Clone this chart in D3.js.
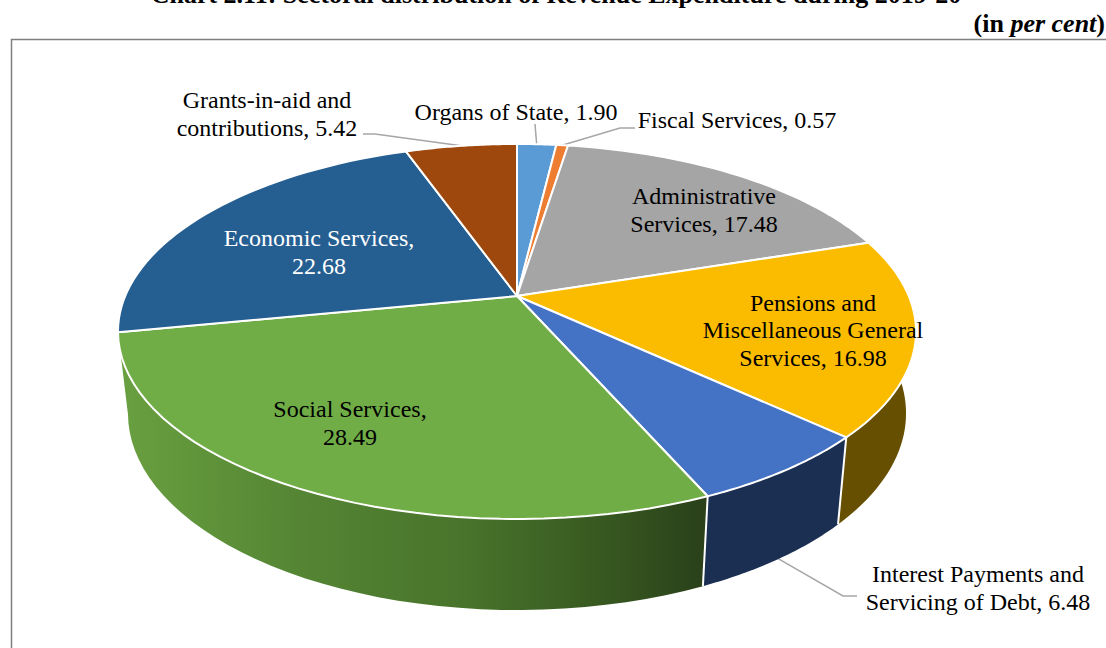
<!DOCTYPE html>
<html>
<head>
<meta charset="utf-8">
<script src="https://cdn.jsdelivr.net/npm/d3@7"></script>
<style>
html,body{margin:0;padding:0;background:#fff;overflow:hidden}
svg{display:block}
text{font-family:"Liberation Serif",serif;fill:#000}
</style>
</head>
<body>
<svg id="c" width="1106" height="648"></svg>
<script>
const categories = ["Organs of State","Fiscal Services","Administrative Services","Pensions and Miscellaneous General Services","Interest Payments and Servicing of Debt","Social Services","Economic Services","Grants-in-aid and contributions"];
const values = [1.90,0.57,17.48,16.98,6.48,28.49,22.68,5.42];
const topColors = ["#5b9bd5","#ed7d31","#a5a5a5","#fbbc00","#4472c4","#70ad47","#255e91","#9e480e"];
const sideColors = ["none","none","none","#664f00","#1a2f52","url(#greenSide)","none","none"];
const labelLines = [
  ["Organs of State, 1.90"],
  ["Fiscal Services, 0.57"],
  ["Administrative","Services, 17.48"],
  ["Pensions and","Miscellaneous General","Services, 16.98"],
  ["Interest Payments and","Servicing of Debt, 6.48"],
  ["Social Services,","28.49"],
  ["Economic Services,","22.68"],
  ["Grants-in-aid and","contributions, 5.42"]
];
const labelColors = ["#000","#000","#000","#000","#000","#000","#fff","#000"];
const labelCentres = [[516,113],[737,121],[704,211],[813,331],[978,589],[350,424],[319,253],[267,115]];
const labelLineGap = 27.5;
const leaders = {0:[[535,124]],1:[[635,128],[620,128]],4:[[857,596],[843,596]],7:[[363,134],[375,134]]};

const svg = d3.select("#c");
const PX = 517, PY = 296, SX = 391.8, SY = 180.8, K = 0.1893;
const DEPTH_X = 0.975, DEPTH_Y = 1.049, DEPTH_SHIFT = 65.6;
const rim = a => {
  const d = 1 + K*Math.cos(a);
  return [PX + SX*Math.sin(a)/d, PY - SY*Math.cos(a)/d];
};
const low = p => [PX + DEPTH_X*(p[0]-PX), DEPTH_Y*p[1] + DEPTH_SHIFT];
const line = d3.line();
const arcPts = (a0,a1) => d3.range(0,41).map(i => a0 + (a1-a0)*i/40);

const defs = svg.append("defs");
const grad = defs.append("linearGradient").attr("id","greenSide").attr("gradientUnits","userSpaceOnUse")
  .attr("x1",118).attr("x2",702).attr("y1",0).attr("y2",0);
[[0,"#69a040"],[0.3,"#558634"],[0.6,"#48732b"],[0.85,"#365620"],[1,"#2a411a"]]
  .forEach(s => grad.append("stop").attr("offset",s[0]).attr("stop-color",s[1]));

// Frame and headings
svg.append("text").attr("x",556).attr("y",3).attr("text-anchor","middle")
  .attr("font-size",26).attr("font-weight","bold")
  .text("Chart 2.11: Sectoral distribution of Revenue Expenditure during 2019-20");
const unit = svg.append("text").attr("x",1105).attr("y",32).attr("text-anchor","end")
  .attr("font-size",26).attr("font-weight","bold");
unit.append("tspan").text("(in ");
unit.append("tspan").attr("font-style","italic").text("per cent");
unit.append("tspan").text(")");
svg.append("path").attr("d","M11.5 648V39.5H1106").attr("fill","none").attr("stroke","#7f7f7f").attr("stroke-width",1.5);

const arcs = d3.pie().sort(null).value(d=>d)(values);

// Leader lines
const mid = d => (d.startAngle+d.endAngle)/2;
Object.keys(leaders).forEach(k => {
  const i = +k, r = rim(mid(arcs[i]));
  const end = i===4 ? low(r) : r;
  svg.append("path").attr("d",line([...leaders[k],end])).attr("fill","none")
    .attr("stroke","#a6a6a6").attr("stroke-width",1.5);
});

// Outer wall (only the slices facing the viewer have a visible wall)
const wallArcs = arcs.filter((d,i)=>sideColors[i] !== "none");
svg.append("g").selectAll("path").data(wallArcs).join("path")
  .attr("d", d => {
    const up = arcPts(d.startAngle,d.endAngle).map(rim);
    return line([...up, ...up.map(low).reverse()]) + "Z";
  })
  .attr("fill",d=>sideColors[d.index]);
svg.append("g").selectAll("path").data(wallArcs.slice(1)).join("path")
  .attr("d", d => { const p = rim(d.startAngle); return line([p,low(p)]); })
  .attr("stroke","#fff").attr("stroke-width",2).attr("fill","none");

// Top face
svg.append("g").selectAll("path").data(arcs).join("path")
  .attr("d", d => line([[PX,PY],...arcPts(d.startAngle,d.endAngle).map(rim)]) + "Z")
  .attr("fill",(d,i)=>topColors[i])
  .attr("stroke","#fff").attr("stroke-width",2).attr("stroke-linejoin","round");

// Labels
const lab = svg.append("g").selectAll("text").data(categories).join("text")
  .attr("text-anchor","middle").attr("font-size",24)
  .style("fill",(d,i)=>labelColors[i]);
lab.each(function(d,i){
  const ls = labelLines[i], c = labelCentres[i];
  d3.select(this).selectAll("tspan").data(ls).join("tspan")
    .attr("x",c[0])
    .attr("y",(l,j)=>c[1] + 7 + (j-(ls.length-1)/2)*labelLineGap)
    .text(l=>l);
});
</script>
</body>
</html>
